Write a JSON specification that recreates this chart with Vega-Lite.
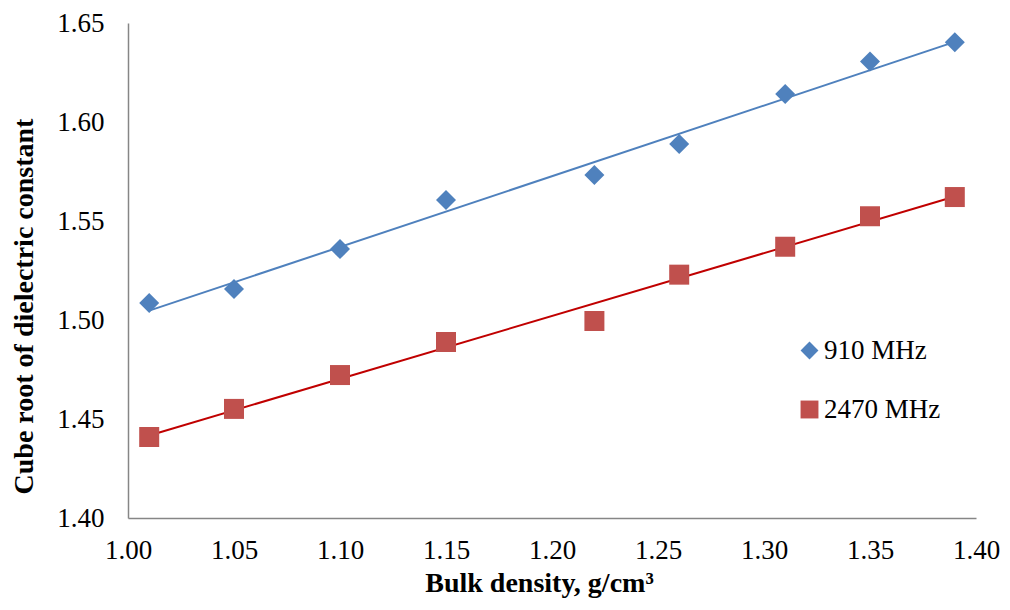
{
  "$schema": "https://vega.github.io/schema/vega-lite/v6.json",
  "autosize": "none",
  "padding": {"left": 128, "top": 23, "right": 34, "bottom": 92},
  "width": 848,
  "height": 495,
  "background": "white",
  "config": {
    "view": {"stroke": null},
    "font": "Liberation Serif",
    "axis": {"grid": false, "ticks": false, "domainColor": "#868686", "domainWidth": 1.5, "labelFont": "Liberation Serif", "labelFontSize": 27, "labelColor": "black", "titleFont": "Liberation Serif", "titleFontSize": 28, "titleFontWeight": "bold", "titleColor": "black"}
  },
  "data": {"values": [
    {"density": 1.01, "cube": 1.5086, "series": "910 MHz"},
    {"density": 1.05, "cube": 1.5157, "series": "910 MHz"},
    {"density": 1.10, "cube": 1.5358, "series": "910 MHz"},
    {"density": 1.15, "cube": 1.5606, "series": "910 MHz"},
    {"density": 1.22, "cube": 1.5732, "series": "910 MHz"},
    {"density": 1.26, "cube": 1.5889, "series": "910 MHz"},
    {"density": 1.31, "cube": 1.6141, "series": "910 MHz"},
    {"density": 1.35, "cube": 1.6305, "series": "910 MHz"},
    {"density": 1.39, "cube": 1.6403, "series": "910 MHz"},
    {"density": 1.01, "cube": 1.4409, "series": "2470 MHz"},
    {"density": 1.05, "cube": 1.4551, "series": "2470 MHz"},
    {"density": 1.10, "cube": 1.4722, "series": "2470 MHz"},
    {"density": 1.15, "cube": 1.4889, "series": "2470 MHz"},
    {"density": 1.22, "cube": 1.4995, "series": "2470 MHz"},
    {"density": 1.26, "cube": 1.5229, "series": "2470 MHz"},
    {"density": 1.31, "cube": 1.5370, "series": "2470 MHz"},
    {"density": 1.35, "cube": 1.5524, "series": "2470 MHz"},
    {"density": 1.39, "cube": 1.5621, "series": "2470 MHz"}
  ]},
  "layer": [
    {
      "transform": [{"filter": "datum.series === '910 MHz'"}, {"regression": "cube", "on": "density", "extent": [1.01, 1.39]}],
      "mark": {"type": "line", "strokeWidth": 2, "color": "#4F81BD"},
      "encoding": {
        "x": {"field": "density", "type": "quantitative"},
        "y": {"field": "cube", "type": "quantitative"}
      }
    },
    {
      "transform": [{"filter": "datum.series === '2470 MHz'"}, {"regression": "cube", "on": "density", "extent": [1.01, 1.39]}],
      "mark": {"type": "line", "strokeWidth": 2, "color": "#C00000"},
      "encoding": {
        "x": {"field": "density", "type": "quantitative"},
        "y": {"field": "cube", "type": "quantitative"}
      }
    },
    {
      "mark": {"type": "point", "filled": true, "opacity": 1, "size": 400},
      "encoding": {
        "x": {"field": "density", "type": "quantitative", "scale": {"domain": [1.0, 1.4], "nice": false, "zero": false}, "axis": {"title": "Bulk density, g/cm³", "values": [1.0, 1.05, 1.1, 1.15, 1.2, 1.25, 1.3, 1.35, 1.4], "format": ".2f", "labelPadding": 19, "titlePadding": 6, "titleX": 411, "labelFlush": false}},
        "y": {"field": "cube", "type": "quantitative", "scale": {"domain": [1.4, 1.65], "nice": false, "zero": false}, "axis": {"title": "Cube root of dielectric constant", "values": [1.4, 1.45, 1.5, 1.55, 1.6, 1.65], "format": ".2f", "labelPadding": 24, "titlePadding": 18, "titleY": 283, "labelFlush": false}},
        "color": {"field": "series", "type": "nominal", "scale": {"domain": ["910 MHz", "2470 MHz"], "range": ["#4F81BD", "#C0504D"]}, "legend": {"title": null, "orient": "none", "legendX": 668, "legendY": 314, "symbolSize": 320, "labelFont": "Liberation Serif", "labelFontSize": 27, "labelColor": "black", "rowPadding": 31, "labelOffset": 1, "symbolOpacity": 1}},
        "shape": {"field": "series", "type": "nominal", "scale": {"domain": ["910 MHz", "2470 MHz"], "range": ["diamond", "square"]}, "legend": {"title": null, "orient": "none", "legendX": 668, "legendY": 314, "symbolSize": 320, "labelFont": "Liberation Serif", "labelFontSize": 27, "labelColor": "black", "rowPadding": 31, "labelOffset": 1, "symbolOpacity": 1}}
      }
    }
  ]
}
